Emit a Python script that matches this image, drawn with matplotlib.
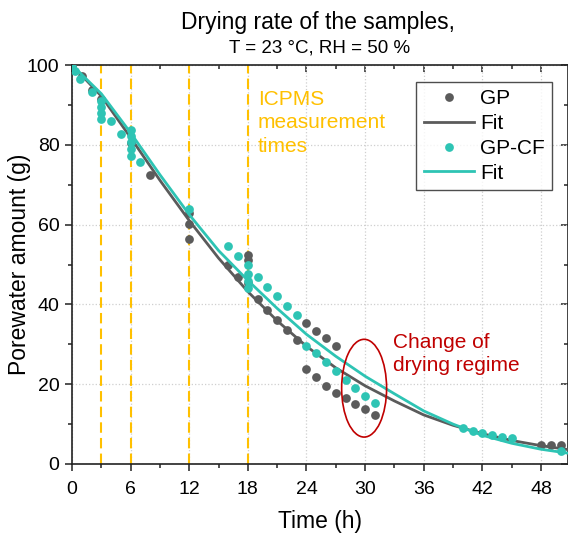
import matplotlib
matplotlib.use("Agg")
import matplotlib.pyplot as plt
from matplotlib.patches import Ellipse
from matplotlib.ticker import MultipleLocator

plt.rcParams['font.family'] = ['Liberation Sans', 'DejaVu Sans']

# ---- data ----
gp_time = [0, 1, 2, 3, 6, 8, 12, 12, 12, 16, 17, 18, 18, 18, 19, 20, 21, 22, 23,
           24, 25, 26, 27, 24, 25, 26, 27, 28, 29, 30, 31, 48, 49, 50]
gp_water = [100, 97.2, 93.8, 91.6, 80.5, 72.4, 63.0, 60.1, 56.3, 49.9, 46.8, 52.4, 51.2, 45.3,
            41.4, 38.7, 36.0, 33.6, 31.1, 35.4, 33.4, 31.5, 29.6, 23.7, 21.7, 19.5, 17.7,
            16.5, 15.0, 13.7, 12.3, 4.8, 4.8, 4.7]

cf_time = [0, 0.3, 0.8, 2, 3, 3, 3, 3, 4, 5, 6, 6, 6, 6, 6, 7, 12, 16, 17, 18, 18, 18, 18,
           19, 20, 21, 22, 23, 24, 25, 26, 27, 28, 29, 30, 31, 40, 41, 42, 43, 44, 45, 50]
cf_water = [99.5, 98.6, 96.6, 93.3, 91.0, 89.5, 88.0, 86.5, 86.0, 82.7, 83.7, 82.2, 80.6, 79.0,
            77.3, 75.8, 63.8, 54.6, 52.2, 49.9, 47.6, 45.9, 44.2, 46.8, 44.3, 42.0, 39.6, 37.3,
            29.6, 27.7, 25.5, 23.3, 21.1, 19.0, 17.0, 15.4, 8.9, 8.3, 7.8, 7.3, 6.8, 6.4, 3.2]

fit_time = [0, 3, 6, 9, 12, 15, 18, 21, 24, 27, 30, 33, 36, 39, 42, 45, 48, 50.8]
gp_fit = [100, 92.2, 81.8, 71.1, 61.0, 51.6, 43.2, 35.9, 29.5, 24.1, 19.6, 15.8, 12.3,
          9.7, 7.6, 5.9, 4.6, 3.6]
cf_fit = [100, 92.8, 83.0, 72.5, 62.5, 53.5, 46.0, 39.0, 32.5, 27.0, 22.0, 17.6, 13.3,
          10.0, 7.2, 5.2, 3.7, 2.7]

icpms_times = [3, 6, 12, 18]

GRAY = '#5B5B5B'
TEAL = '#2EC4B4'
GOLD = '#FFC000'
RED = '#C00000'

fig = plt.figure(figsize=(5.68, 5.38), dpi=100)
ax = fig.add_axes([72/568, 1-464/538, 1-72/568, (464-65)/538])

ax.set_xlim(0, (568-72)/9.77)
ax.set_ylim(0, 100)

ax.xaxis.set_major_locator(MultipleLocator(6))
ax.xaxis.set_minor_locator(MultipleLocator(3))
ax.yaxis.set_major_locator(MultipleLocator(20))
ax.yaxis.set_minor_locator(MultipleLocator(10))

ax.grid(True, which='major', linestyle=':', color='#CFCFCF', linewidth=0.9)
ax.set_axisbelow(True)

for t in icpms_times:
    ax.axvline(t, color=GOLD, linestyle=(0, (5, 2.5)), linewidth=1.5, zorder=1)

ax.plot(gp_time, gp_water, 'o', color=GRAY, markersize=6.3, markeredgewidth=0, label='GP', zorder=3)
ax.plot(fit_time, gp_fit, '-', color=GRAY, linewidth=2.0, label='Fit', zorder=4)
ax.plot(cf_time, cf_water, 'o', color=TEAL, markersize=6.3, markeredgewidth=0, label='GP-CF', zorder=5)
ax.plot(fit_time, cf_fit, '-', color=TEAL, linewidth=2.0, label='Fit', zorder=6)

ax.add_patch(Ellipse((29.9, 19.0), width=4.6, height=24.5, fill=False,
                     edgecolor=RED, linewidth=1.2, zorder=7))

ax.text(19.0, 85.5, 'ICPMS\nmeasurement\ntimes', color=GOLD, fontsize=15,
        ha='left', va='center', linespacing=1.3)
ax.text(32.9, 27.6, 'Change of\ndrying regime', color=RED, fontsize=15,
        ha='left', va='center', linespacing=1.3)

for side in ['top', 'right', 'bottom', 'left']:
    ax.spines[side].set_linewidth(1.2)
    ax.spines[side].set_color('#222222')

ax.tick_params(which='both', bottom=True, left=True, top=False, right=False,
               direction='out', labelsize=14, color='#222222', width=1.1)
ax.tick_params(which='major', length=5)
ax.tick_params(axis='x', which='major', pad=7)
ax.tick_params(axis='y', which='major', pad=4)
ax.tick_params(which='minor', length=3)

# mirrored inward ticks on top/right
sec_x = ax.secondary_xaxis('top')
sec_x.xaxis.set_major_locator(MultipleLocator(6))
sec_x.xaxis.set_minor_locator(MultipleLocator(3))
sec_x.tick_params(which='both', direction='in', labeltop=False, color='#222222', width=1.1)
sec_x.tick_params(which='major', length=5)
sec_x.tick_params(which='minor', length=3)
sec_x.spines['top'].set_visible(False)
sec_y = ax.secondary_yaxis('right')
sec_y.yaxis.set_major_locator(MultipleLocator(20))
sec_y.yaxis.set_minor_locator(MultipleLocator(10))
sec_y.tick_params(which='both', direction='in', labelright=False, color='#222222', width=1.1)
sec_y.tick_params(which='major', length=5)
sec_y.tick_params(which='minor', length=3)
sec_y.spines['right'].set_visible(False)

ax.set_xlabel('Time (h)', fontsize=16.5)
ax.xaxis.set_label_coords(0.5, -(510 - 464) / 399)
ax.set_ylabel('Porewater amount (g)', fontsize=16.5)
ax.yaxis.set_label_coords(-(72 - 31) / 496, 0.5)

leg = ax.legend(loc='upper right', fontsize=15, frameon=True, fancybox=False,
                handlelength=2.4, handletextpad=0.3, borderpad=0.35, labelspacing=0.28,
                borderaxespad=0)
leg.get_frame().set_edgecolor('#222222')
leg.get_frame().set_linewidth(1.0)
leg.set_bbox_to_anchor((552/568, 1-82/538), transform=fig.transFigure)

fig.text(318/568, 1-23/538, 'Drying rate of the samples,', fontsize=16.5, ha='center', va='center')
fig.text(320/568, 1-48/538, 'T = 23 °C, RH = 50 %', fontsize=13.5, ha='center', va='center')

fig.savefig('out.png', dpi=100)
